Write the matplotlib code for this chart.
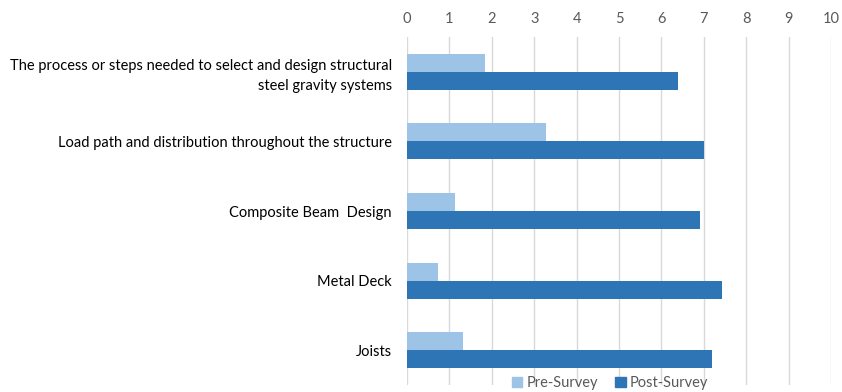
import numpy as np
import matplotlib.pyplot as plt
from matplotlib.patches import Patch

categories = [
    "The process or steps needed to select and design structural\nsteel gravity systems",
    "Load path and distribution throughout the structure",
    "Composite Beam  Design",
    "Metal Deck",
    "Joists",
]
pre_survey = [1.85, 3.27, 1.13, 0.74, 1.32]
post_survey = [6.39, 7.0, 6.91, 7.44, 7.19]

PRE_COLOR = "#9DC3E6"
POST_COLOR = "#2E75B6"
TEXT_COLOR = "#595959"

plt.rcParams['font.family'] = ['Lato', 'DejaVu Sans']

fig = plt.figure(figsize=(8.42, 3.92), dpi=100)
ax = fig.add_axes([407 / 842, 1 - 385 / 392, (831 - 407) / 842, (385 - 37) / 392])

y = np.arange(len(categories))
h = 0.26
ax.barh(y - h / 2, pre_survey, height=h, color=PRE_COLOR, label="Pre-Survey", zorder=3)
ax.barh(y + h / 2, post_survey, height=h, color=POST_COLOR, label="Post-Survey", zorder=3)

ax.set_xlim(0, 10)
ax.set_ylim(len(categories) - 0.5, -0.5)
ax.set_xticks(range(0, 11))
ax.xaxis.tick_top()
ax.tick_params(axis='x', length=0, pad=8, labelsize=10.5, labelcolor=TEXT_COLOR)
ax.set_yticks(y)
ax.set_yticklabels(categories, fontsize=10.5, color="black")
ax.tick_params(axis='y', length=0, pad=11)
for lbl in ax.get_yticklabels():
    lbl.set_horizontalalignment('right')
    lbl.set_multialignment('right')
    lbl.set_linespacing(1.5)

ax.grid(axis='x', color="#D9D9D9", linewidth=1, zorder=0)
for s in ax.spines.values():
    s.set_visible(False)

handles = [Patch(color=PRE_COLOR, label="Pre-Survey"), Patch(color=POST_COLOR, label="Post-Survey")]
leg = fig.legend(handles=handles, loc='center', bbox_to_anchor=(610 / 842, 1 - 383 / 392),
                 ncol=2, frameon=False, fontsize=10.5, handlelength=0.7, handleheight=0.7,
                 handletextpad=0.3, columnspacing=1.2, borderpad=0)
for t in leg.get_texts():
    t.set_color(TEXT_COLOR)

fig.savefig("out.png", dpi=100)
